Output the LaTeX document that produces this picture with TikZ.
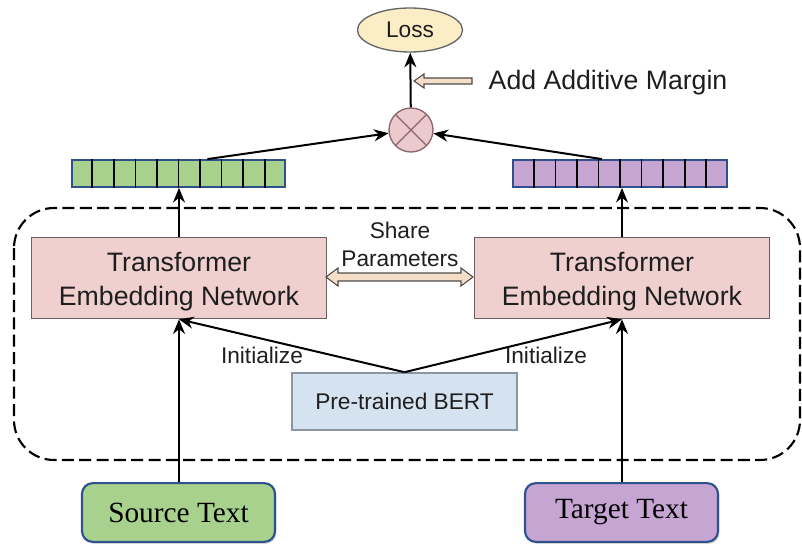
\documentclass[tikz,border=0pt]{standalone}
\usepackage{fontspec}
\setmainfont{Liberation Serif}
\setsansfont{Liberation Sans}
\usetikzlibrary{arrows.meta,calc,shapes.geometric,shadows}

\definecolor{txt}{HTML}{1E1E1E}
\definecolor{tfill}{HTML}{F0CFCF}
\definecolor{tdraw}{HTML}{6E5E5E}
\definecolor{bfill}{HTML}{D5E3F0}
\definecolor{bdraw}{HTML}{8A96A4}
\definecolor{gfill}{HTML}{A9D18E}
\definecolor{pfill}{HTML}{C6A5D3}
\definecolor{vblue}{HTML}{2F528F}
\definecolor{lfill}{HTML}{FBEEC6}
\definecolor{cfill}{HTML}{EBC9CC}
\definecolor{cdraw}{HTML}{8A6570}
\definecolor{afill}{HTML}{F4DEC8}

\tikzset{
  lbl/.style={font=\sffamily\fontsize{17}{21}\selectfont, text=txt, align=center},
  tbox/.style={draw=tdraw, line width=1.2pt, fill=tfill, minimum width=221pt, minimum height=60.75pt},
  ttext/.style={font=\sffamily\fontsize{20}{25.5}\selectfont, text=txt, align=center},
  vec/.style={draw=vblue, line width=1.6pt, minimum width=160pt, minimum height=20pt, inner sep=0pt},
  inbox/.style={draw=vblue, line width=1.6pt, rounded corners=8pt, minimum width=144.75pt,
    minimum height=44pt, font=\rmfamily\fontsize{22}{26}\selectfont, text=black,
    drop shadow={shadow xshift=1pt, shadow yshift=-1.5pt, opacity=0.35}},
  arr/.style={-{Stealth[length=11pt,width=9pt]}, line width=1.5pt, black},
  hollow/.style={draw=black!70, line width=0.8pt, fill=afill},
}

\begin{document}
\begin{tikzpicture}[x=0.75pt, y=-0.75pt]
\useasboundingbox (0,0) rectangle (802,549);

% shared encoder region
\draw[dashed, dash pattern=on 9pt off 4pt, line width=1.6pt, rounded corners=30pt]
  (14,208) rectangle (800,460);

% loss and similarity
\node[ellipse, draw=black!60, line width=1pt, fill=lfill, minimum width=78.75pt, minimum height=33pt,
  font=\sffamily\fontsize{17}{21}\selectfont, text=txt] (loss) at (410,30) {Loss};
\node[circle, draw=cdraw, line width=1pt, fill=cfill, minimum size=33pt, inner sep=0pt] (cross) at (411,130) {};
\draw[cdraw, line width=1pt] ($(cross.center)+(-15.5,-15.5)$) -- ($(cross.center)+(15.5,15.5)$)
  ($(cross.center)+(-15.5,15.5)$) -- ($(cross.center)+(15.5,-15.5)$);
\draw[arr] (cross) -- (loss);

% additive margin pointer
\coordinate (mtip) at (414,81);
\draw[hollow] (mtip) -- ++(10,-7) -- ++(0,4) -- ++(48,0) -- ++(0,6) -- ++(-48,0) -- ++(0,4) -- cycle;
\node[lbl, anchor=west, font=\sffamily\fontsize{20}{24}\selectfont] (margin) at (484,83) {Add Additive Margin};

% embedding vectors
\node[vec, fill=gfill] (gvec) at (178.5,173.5) {};
\node[vec, fill=pfill] (pvec) at (620,173.5) {};
\foreach \v in {gvec,pvec}{
  \foreach \i in {1,...,9}{
    \draw[black, line width=1.3pt] ($(\v.north west)!\i/10!(\v.north east)$) -- ($(\v.south west)!\i/10!(\v.south east)$);
  }
}
\draw[arr] ($(gvec.north west)!0.634!(gvec.north east)$) -- (cross);
\draw[arr] ($(pvec.north west)!0.416!(pvec.north east)$) -- (cross);

% transformer encoders (text set slightly below the box centre)
\node[tbox, label={[ttext, yshift=-3pt]center:Transformer\\Embedding Network}] (tl) at (179,278) {};
\node[tbox, label={[ttext, yshift=-3pt]center:Transformer\\Embedding Network}] (tr) at (622,278) {};
\draw[arr] (tl.north) -- (tl.north |- gvec.south);
\draw[arr] (tr.north) -- (tr.north |- pvec.south);

% shared parameters double arrow
\draw[hollow] (326,277) -- ++(12,-9) -- ++(0,5) -- ++(123,0) -- ++(0,-5) -- ++(12,9)
  -- ++(-12,9) -- ++(0,-5) -- ++(-123,0) -- ++(0,5) -- cycle;
\node[lbl] (share) at (400,244) {Share\\Parameters};

% pre-trained model
\node[draw=bdraw, line width=1.2pt, fill=bfill, minimum width=168.75pt, minimum height=42.75pt,
  font=\sffamily\fontsize{17}{21}\selectfont, text=txt] (bert) at (404.5,401.5) {Pre-trained BERT};
\draw[arr] (bert.north) -- (tl.south);
\draw[arr] (bert.north) -- (tr.south);
\node[lbl] (initl) at (262,355) {Initialize};
\node[lbl] (initr) at (546,355) {Initialize};

% inputs
\node[inbox, fill=gfill] (src) at (178.5,512.5) {Source Text};
\node[inbox, fill=pfill] (tgt) at (621.5,512.5) {Target Text};
\draw[arr] (src.north -| tl.south) -- (tl.south);
\draw[arr] (tgt.north -| tr.south) -- (tr.south);
\end{tikzpicture}
\end{document}
